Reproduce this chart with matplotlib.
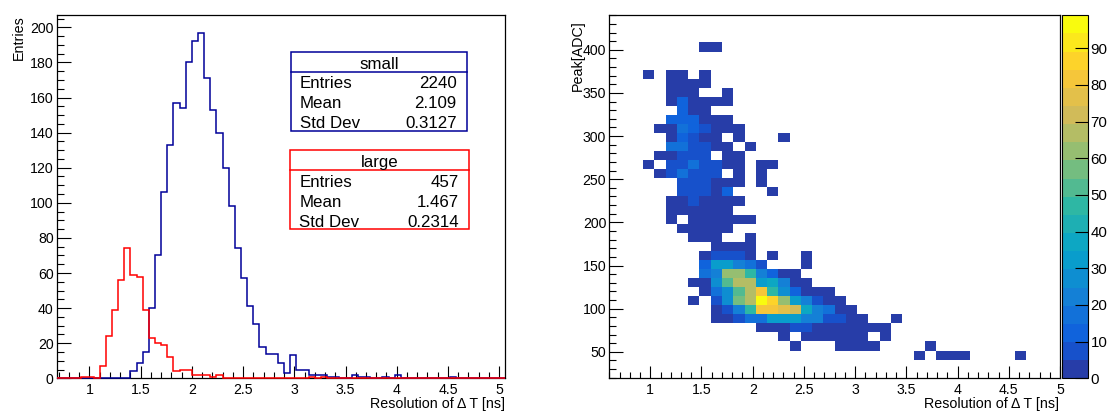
import numpy as np
import matplotlib
matplotlib.use("Agg")
import matplotlib.pyplot as plt
from matplotlib.colors import ListedColormap, BoundaryNorm
from matplotlib.ticker import MultipleLocator
from matplotlib.patches import Rectangle
from matplotlib.lines import Line2D

plt.rcParams['font.family'] = ['Liberation Sans', 'DejaVu Sans']

# ---------------- 1D histograms: resolution of delta T ----------------
res_lo, res_hi, res_nbins = 0.68, 5.06, 73

small_first_bin = 12
small_counts = [4, 9, 15, 40, 70, 106, 133, 157, 154, 180, 192, 197, 171, 153,
                140, 120, 98, 74, 57, 41, 31, 18, 14, 14, 9, 3, 13, 5, 5, 2, 2,
                2, 1, 1, 0, 0, 2, 1, 1, 0, 0, 1, 0, 2, 0, 0, 0, 0, 0, 0, 0, 0, 1]

large_first_bin = 4
large_counts = [1, 1, 0, 7, 24, 39, 56, 74, 59, 58, 39, 23, 20, 19, 12, 4, 5, 5,
                2, 2, 2, 1, 2, 0, 0, 0, 0, 0, 0, 0, 0, 0, 0, 0, 0, 0, 0, 1, 0, 1]

small_stats = [("Entries", "2240"), ("Mean", "2.109"), ("Std Dev", "0.3127")]
large_stats = [("Entries", "457"), ("Mean", "1.467"), ("Std Dev", "0.2314")]

# ---------------- 2D histogram: peak vs resolution ----------------
res2_lo, res2_hi, res2_nbins = 0.6, 5.0, 40
peak_lo, peak_hi, peak_nbins = 20.0, 440.0, 40

cell_res_bin = [
    8, 9,
    3, 5, 6, 8,
    5, 6, 7, 8,
    5, 6, 7, 10,
    5, 6, 7, 8, 9, 10,
    6, 7, 8,
    5, 6, 7, 8, 9, 10,
    4, 5, 6, 7, 8, 9, 10, 11,
    5, 6, 7, 8, 9, 11, 15,
    5, 6, 7, 8, 9, 10, 12,
    4, 5, 6, 7, 8, 10, 11,
    3, 5, 6, 7, 8, 9, 10, 11, 13, 14,
    4, 5, 6, 7, 8, 9, 11, 13,
    6, 7, 8, 9, 10, 11, 13,
    6, 7, 8, 9, 10, 14,
    5, 6, 7, 8, 9, 10, 11,
    5, 6, 7, 8, 9, 10,
    5, 7, 8, 9, 10, 11, 12,
    6, 7, 8, 9, 10,
    7, 8, 9, 12,
    9, 10, 11, 12,
    8, 9, 10, 11, 12, 14, 17,
    8, 9, 10, 11, 12, 13, 17,
    8, 9, 10, 11, 12, 13, 14, 15, 16,
    7, 8, 9, 10, 11, 12, 13, 14, 15, 16, 17,
    8, 9, 10, 11, 12, 13, 14, 15, 16, 17, 18, 19,
    7, 9, 10, 11, 12, 13, 14, 15, 16, 17, 18, 19, 20,
    9, 10, 11, 12, 13, 14, 15, 16, 17, 18, 19, 20, 21,
    9, 10, 11, 12, 13, 14, 15, 16, 17, 18, 19, 20, 21, 22, 25,
    13, 14, 15, 16, 17, 18, 19, 20, 21, 22, 23, 24,
    15, 17, 18, 19, 20, 21, 22, 24,
    16, 20, 21, 22, 23, 28,
    27, 29, 30, 31, 36,
]
cell_peak_bin = (
    [36] * 2 + [33] * 4 + [32] * 4 + [31] * 4 + [30] * 6 + [29] * 3 +
    [28] * 6 + [27] * 8 + [26] * 7 + [25] * 7 + [24] * 7 + [23] * 10 +
    [22] * 8 + [21] * 7 + [20] * 6 + [19] * 7 + [18] * 6 + [17] * 7 +
    [16] * 5 + [15] * 4 + [14] * 4 + [13] * 7 + [12] * 7 + [11] * 9 +
    [10] * 11 + [9] * 12 + [8] * 13 + [7] * 13 + [6] * 15 + [5] * 12 +
    [4] * 8 + [3] * 6 + [2] * 5
)
cell_counts = [
    2, 2,
    2, 2, 2, 2,
    3, 3, 3, 2,
    3, 4, 3, 2,
    3, 12, 3, 3, 2, 2,
    12, 4, 3,
    12, 12, 14, 4, 3, 2,
    2, 4, 15, 14, 8, 3, 3, 2,
    3, 12, 8, 4, 3, 2, 1,
    15, 15, 8, 8, 4, 3, 2,
    2, 3, 8, 8, 8, 3, 2,
    2, 8, 8, 17, 8, 8, 3, 2, 1, 1,
    2, 8, 16, 9, 9, 9, 2, 1,
    8, 8, 8, 4, 3, 3, 1,
    7, 7, 7, 4, 10, 1,
    3, 4, 7, 4, 3, 3, 3,
    3, 3, 4, 4, 3, 2,
    2, 3, 4, 3, 3, 2, 2,
    2, 3, 4, 3, 2,
    2, 3, 3, 1,
    3, 4, 3, 2,
    2, 7, 7, 7, 3, 1, 1,
    12, 30, 30, 22, 15, 9, 2,
    17, 22, 62, 62, 45, 20, 14, 3, 3,
    2, 3, 27, 52, 67, 67, 32, 36, 20, 3, 3,
    2, 17, 28, 50, 67, 82, 47, 27, 12, 3, 3, 2,
    2, 9, 27, 57, 67, 99, 87, 62, 32, 20, 9, 3, 3,
    3, 8, 22, 47, 82, 82, 77, 72, 37, 22, 17, 3, 3,
    3, 3, 8, 15, 15, 32, 32, 32, 20, 20, 8, 8, 3, 3, 1,
    3, 3, 3, 8, 8, 3, 3, 3, 2, 2, 2, 1,
    2, 2, 2, 3, 2, 2, 2, 1,
    2, 1, 1, 1, 1, 1,
    1, 1, 1, 1, 1,
]

# ROOT "bird" palette
bird_stops = [0.0000, 0.1250, 0.2500, 0.3750, 0.5000, 0.6250, 0.7500, 0.8750, 1.0000]
bird_r = [0.2082, 0.0592, 0.0780, 0.0232, 0.1802, 0.5301, 0.8186, 0.9956, 0.9764]
bird_g = [0.1664, 0.3599, 0.5041, 0.6419, 0.7178, 0.7492, 0.7328, 0.7862, 0.9832]
bird_b = [0.5293, 0.8684, 0.8385, 0.7914, 0.6425, 0.4662, 0.3499, 0.1968, 0.0539]
n_levels = 20

# ---------------- figure layout (pixel boxes) ----------------
W, H = 1109, 411
fig = plt.figure(figsize=(W / 100, H / 100), dpi=100)
fig.patch.set_facecolor('white')


def px_box(left, top, right, bottom):
    return [left / W, 1 - bottom / H, (right - left) / W, (bottom - top) / H]


def fx(x):
    return x / W


def fy(y):
    return 1 - y / H


blue = '#000099'
red = '#ff0000'
tick_fs = 10.2
title_fs = 10.3
stat_fs = 12.2


def style_axes(ax):
    for sp in ax.spines.values():
        sp.set_linewidth(0.9)
        sp.set_color('black')
    ax.tick_params(which='both', direction='in', top=False, right=False,
                   labelsize=tick_fs, width=0.8, colors='black')
    ax.tick_params(axis='y', which='major', length=10, pad=2.2)
    ax.tick_params(axis='y', which='minor', length=5)
    ax.tick_params(axis='x', which='major', length=8.4, pad=3.6)
    ax.tick_params(axis='x', which='minor', length=4.2)
    ax.xaxis.set_major_locator(MultipleLocator(0.5))
    ax.xaxis.set_minor_locator(MultipleLocator(0.1))
    ax.xaxis.set_major_formatter(plt.FuncFormatter(lambda v, p: f"{v:g}"))


# ---------------- left panel ----------------
ax1 = fig.add_axes(px_box(56.7, 15.3, 505.3, 378.3))
edges = np.linspace(res_lo, res_hi, res_nbins + 1)

small = np.zeros(res_nbins)
small[small_first_bin:small_first_bin + len(small_counts)] = small_counts
large = np.zeros(res_nbins)
large[large_first_bin:large_first_bin + len(large_counts)] = large_counts

ax1.stairs(small, edges, color=blue, lw=1.1, zorder=3, clip_on=False)
ax1.stairs(large, edges, color=red, lw=1.1, zorder=3, clip_on=False)
ax1.set_xlim(res_lo, res_hi)
ax1.set_ylim(0, small.max() * 1.05)
style_axes(ax1)
ax1.yaxis.set_major_locator(MultipleLocator(20))
ax1.yaxis.set_minor_locator(MultipleLocator(5))

fig.text(fx(22.5), fy(15.3), "Entries", rotation=90, rotation_mode='anchor',
         ha='right', va='baseline', fontsize=title_fs)
fig.text(fx(505.3), fy(407.5), "Resolution of \u0394 T [ns]", ha='right',
         va='baseline', fontsize=title_fs)


def stat_box(left, top, right, bottom, sep, name, rows, color, name_base,
             row_bases, text_left, text_right):
    fig.patches.append(Rectangle((fx(left), fy(bottom)), fx(right - left),
                                 (bottom - top) / H, transform=fig.transFigure,
                                 facecolor='white', edgecolor=color, lw=1.1,
                                 zorder=5))
    fig.lines.append(Line2D([fx(left), fx(right)], [fy(sep), fy(sep)],
                            transform=fig.transFigure, color=color, lw=1.1,
                            zorder=6))
    fig.text(fx((left + right) / 2), fy(name_base), name, ha='center',
             va='baseline', fontsize=stat_fs, zorder=7)
    for (label, value), base in zip(rows, row_bases):
        fig.text(fx(text_left), fy(base), label, ha='left', va='baseline',
                 fontsize=stat_fs, zorder=7)
        fig.text(fx(text_right), fy(base), value, ha='right', va='baseline',
                 fontsize=stat_fs, zorder=7)


stat_box(291, 52.3, 466.7, 131, 71.7, "small", small_stats, blue, 69.4,
         [88.3, 108.3, 128.3], 300, 456.7)
stat_box(290, 150, 469, 229.3, 170, "large", large_stats, red, 167.2,
         [187.3, 206.7, 226.7], 299.3, 459)

# ---------------- right panel ----------------
ax2 = fig.add_axes(px_box(609.3, 15.3, 1060, 377.7))
xe = np.linspace(res2_lo, res2_hi, res2_nbins + 1)
ye = np.linspace(peak_lo, peak_hi, peak_nbins + 1)
grid = np.zeros((peak_nbins, res2_nbins))
for i, j, c in zip(cell_res_bin, cell_peak_bin, cell_counts):
    grid[j, i] = c

pos = np.array([int((k + 0.99) * 255 / n_levels) for k in range(n_levels)]) / 254.0
cols = np.column_stack([np.interp(pos, bird_stops, ch) for ch in (bird_r, bird_g, bird_b)])
cmap = ListedColormap(cols)
z_max = grid.max()
norm = BoundaryNorm(np.linspace(0, z_max, n_levels + 1), cmap.N)

mesh = ax2.pcolormesh(xe, ye, np.ma.masked_equal(grid, 0), cmap=cmap, norm=norm,
                      shading='flat', edgecolors='none', antialiased=False)
ax2.set_xlim(res2_lo, res2_hi)
ax2.set_ylim(peak_lo, peak_hi)
style_axes(ax2)
ax2.yaxis.set_major_locator(MultipleLocator(50))
ax2.yaxis.set_minor_locator(MultipleLocator(10))

fig.text(fx(582), fy(20), "Peak[ADC]", rotation=90, rotation_mode='anchor',
         ha='right', va='baseline', fontsize=title_fs)
fig.text(fx(1059.5), fy(407.5), "Resolution of \u0394 T [ns]", ha='right',
         va='baseline', fontsize=title_fs)

cax = fig.add_axes(px_box(1061.7, 15.3, 1088.3, 378.3))
cb = fig.colorbar(mesh, cax=cax, ticks=np.arange(0, 91, 10))
cb.outline.set_linewidth(0.8)
cax.yaxis.set_ticks_position('right')
cax.minorticks_off()
cax.tick_params(axis='y', which='major', direction='in', length=9.5,
                width=0.8, pad=1.5, labelsize=10.8)
cax.yaxis.set_major_formatter(plt.FuncFormatter(lambda v, p: f"{v:g}"))

fig.savefig("out.png", dpi=100)
